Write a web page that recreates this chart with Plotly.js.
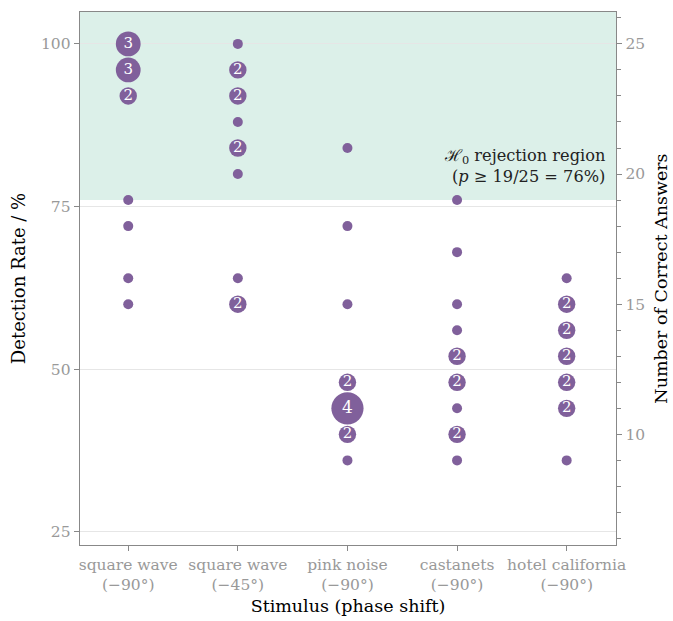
<!DOCTYPE html>
<html><head><meta charset="utf-8">
<script src="https://cdn.plot.ly/plotly-3.0.1.min.js"></script>
<style>body{margin:0;background:#fff}#chart{width:673px;height:621px}</style>
</head><body><div id="chart"></div>
<script>
const categories = ['square wave<br>(−90°)', 'square wave<br>(−45°)', 'pink noise<br>(−90°)', 'castanets<br>(−90°)', 'hotel california<br>(−90°)'];
const sq90Rates = [100, 96, 92, 76, 72, 64, 60];
const sq90Counts = [3, 3, 2, 1, 1, 1, 1];
const sq45Rates = [100, 96, 92, 88, 84, 80, 64, 60];
const sq45Counts = [1, 2, 2, 1, 2, 1, 1, 2];
const pinkRates = [84, 72, 60, 48, 44, 40, 36];
const pinkCounts = [1, 1, 1, 2, 4, 2, 1];
const castRates = [76, 68, 60, 56, 52, 48, 44, 40, 36];
const castCounts = [1, 1, 1, 1, 2, 2, 1, 2, 1];
const hotelRates = [64, 60, 56, 52, 48, 44, 36];
const hotelCounts = [1, 2, 2, 2, 2, 2, 1];
const totalAnswers = 25;
const threshold = 76;
const leftTicks = [25, 50, 75, 100];
const rightTicks = [10, 15, 20, 25];

const groups = [[sq90Rates, sq90Counts], [sq45Rates, sq45Counts], [pinkRates, pinkCounts], [castRates, castCounts], [hotelRates, hotelCounts]];
const single = { x: [], y: [] }, multi = { x: [], y: [], c: [] };
groups.forEach((g, i) => g[0].forEach((r, j) => {
  const c = g[1][j];
  if (c > 1) { multi.x.push(categories[i]); multi.y.push(r); multi.c.push(c); }
  else { single.x.push(categories[i]); single.y.push(r); }
}));

const purple = 'rgb(128,96,155)';
const serif = 'DejaVu Serif';
const grey = '#999';
const yRange = [23, 104.9];
const sizeOf = c => 10 + 7.4 * (c - 1);

const singleTrace = {
  x: single.x, y: single.y, type: 'scatter', mode: 'markers',
  marker: { color: purple, opacity: 1, size: sizeOf(1), line: { width: 0 } },
  hoverinfo: 'skip', showlegend: false, cliponaxis: false
};
const multiTrace = {
  x: multi.x, y: multi.y, type: 'scatter', mode: 'markers+text',
  marker: { color: purple, opacity: 1, size: multi.c.map(sizeOf), line: { width: 0 } },
  text: multi.c.map(String),
  textposition: 'middle center',
  textfont: { color: 'white', family: serif, size: multi.c.map(c => c >= 4 ? 17 : 15) },
  hoverinfo: 'skip', showlegend: false, cliponaxis: false
};
const dummy = { x: [categories[0]], y: [10], yaxis: 'y2', type: 'scatter', mode: 'markers', marker: { opacity: 0 }, showlegend: false, hoverinfo: 'skip' };

const layout = {
  width: 673, height: 621,
  margin: { l: 80, r: 57, t: 12, b: 76 },
  paper_bgcolor: 'white', plot_bgcolor: 'white',
  font: { family: serif, size: 15, color: '#000' },
  xaxis: {
    type: 'category', categoryorder: 'array', categoryarray: categories,
    range: [-0.44, 4.45],
    showline: true, linecolor: '#888', linewidth: 1.3, mirror: true,
    ticks: 'outside', ticklen: 5, tickcolor: '#888',
    tickfont: { family: serif, size: 15.5, color: grey },
    showgrid: false, zeroline: false,
    title: { text: 'Stimulus (phase shift)', font: { family: serif, size: 17.5, color: '#000' }, standoff: 6 }
  },
  yaxis: {
    range: yRange, tickvals: leftTicks,
    showline: true, linecolor: '#888', linewidth: 1.3,
    ticks: 'outside', ticklen: 5, tickcolor: '#888',
    tickfont: { family: serif, size: 15.5, color: grey },
    showgrid: true, gridcolor: '#e6e6e6', gridwidth: 1, zeroline: false,
    title: { text: 'Detection Rate / %', font: { family: serif, size: 18, color: '#000' }, standoff: 10 }
  },
  yaxis2: {
    overlaying: 'y', side: 'right',
    range: yRange.map(v => v * totalAnswers / 100), tickvals: rightTicks,
    showline: true, linecolor: '#888', linewidth: 1.3,
    ticks: 'outside', ticklen: 5, tickcolor: '#888',
    minor: { dtick: 1, ticks: 'outside', ticklen: 4, tickcolor: '#888', showgrid: false },
    tickfont: { family: serif, size: 15.5, color: grey },
    showgrid: false, zeroline: false,
    title: { text: 'Number of Correct Answers', font: { family: serif, size: 17.5, color: '#000' }, standoff: 10 }
  },
  shapes: [{
    type: 'rect', xref: 'paper', yref: 'y', x0: 0, x1: 1, y0: threshold, y1: yRange[1],
    fillcolor: 'rgb(220,240,233)', line: { width: 0 }, layer: 'below'
  }],
  annotations: [{
    xref: 'paper', yref: 'y', x: 0.984, y: 81.3, xanchor: 'right', yanchor: 'middle', align: 'right',
    showarrow: false,
    text: 'ℋ<sub>0</sub> rejection region<br>(<i>p</i> ≥ 19/25 = 76%)',
    font: { family: serif, size: 16.2, color: '#222' }
  }]
};
Plotly.newPlot('chart', [singleTrace, multiTrace, dummy], layout, { staticPlot: true, displayModeBar: false });
</script></body></html>
